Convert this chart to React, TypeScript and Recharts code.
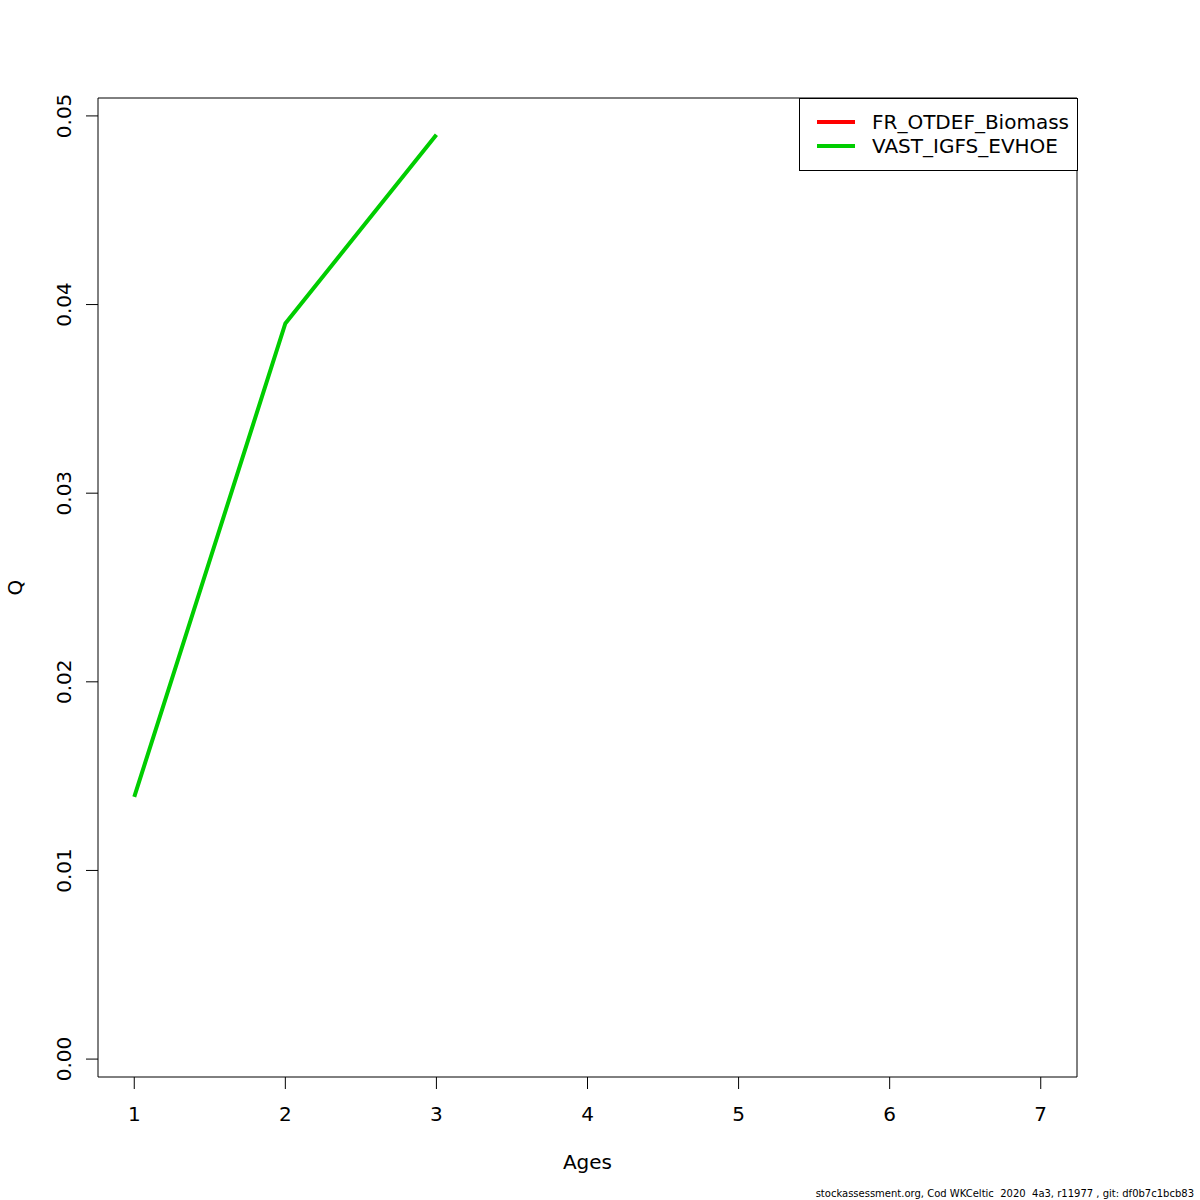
import { LineChart, Line, XAxis, YAxis, ReferenceArea, Legend } from 'recharts';

const ages = [1, 2, 3, 4, 5, 6, 7];
const seriesNames = ['FR_OTDEF_Biomass', 'VAST_IGFS_EVHOE'];
const seriesColors = ['#ff0000', '#00cd00'];
// FR_OTDEF_Biomass draws no visible line in the reference
const qFrOtdefBiomass: (number | null)[] = [null, null, null, null, null, null, null];
const qVastIgfsEvhoe: (number | null)[] = [0.0139, 0.039, 0.049, null, null, null, null];
const yTicks = [0, 0.01, 0.02, 0.03, 0.04, 0.05];
const xDomain: [number, number] = [0.76, 7.24];
const yDomain: [number, number] = [-0.00095, 0.05095];

const rows = ages.map((age, i) => ({ age, fr: qFrOtdefBiomass[i], vast: qVastIgfsEvhoe[i] }));

const FONT = '"DejaVu Sans", sans-serif';

const XTick = ({ x, y, payload }: any) => (
  <text x={x} y={y + 32} textAnchor="middle" fontSize={20} fontFamily={FONT} fill="#000">
    {payload.value}
  </text>
);

const YTick = ({ x, y, payload }: any) => (
  <text
    x={x - 15}
    y={y}
    transform={`rotate(-90, ${x - 15}, ${y})`}
    textAnchor="middle"
    fontSize={20}
    fontFamily={FONT}
    fill="#000"
  >
    {payload.value.toFixed(2)}
  </text>
);

const LegendBox = () => (
  <div
    style={{
      boxSizing: 'border-box',
      width: 279,
      height: 73,
      border: '1px solid #000',
      background: '#fff',
      padding: '11px 0 0 17px',
      fontFamily: FONT,
      fontSize: 20,
    }}
  >
    {seriesNames.map((name, i) => (
      <div key={name} style={{ display: 'flex', alignItems: 'center', height: 24 }}>
        <div style={{ width: 38, height: 4, background: seriesColors[i], marginRight: 17 }} />
        <span style={{ lineHeight: '24px', color: '#000' }}>{name}</span>
      </div>
    ))}
  </div>
);

export default function App() {
  return (
    <div style={{ position: 'absolute', left: 0, top: 0, width: 1200, height: 1200, background: '#fff' }}>
      <LineChart width={1200} height={1200} data={rows} margin={{ top: 98, right: 123, bottom: 63, left: 40 }}>
        <XAxis
          dataKey="age"
          type="number"
          domain={xDomain}
          ticks={ages}
          allowDataOverflow
          axisLine={false}
          tickSize={12}
          tickMargin={0}
          tickLine={{ stroke: '#000' }}
          tick={<XTick />}
          height={60}
          label={({ viewBox }: any) => (
            <text x={viewBox.x + viewBox.width / 2} y={1169} textAnchor="middle" fontSize={20} fontFamily={FONT} fill="#000">
              Ages
            </text>
          )}
        />
        <YAxis
          type="number"
          domain={yDomain}
          ticks={yTicks}
          allowDataOverflow
          axisLine={false}
          tickSize={12}
          tickMargin={0}
          tickLine={{ stroke: '#000' }}
          tick={<YTick />}
          width={58}
          label={({ viewBox }: any) => (
            <text
              x={22}
              y={viewBox.y + viewBox.height / 2}
              transform={`rotate(-90, 22, ${viewBox.y + viewBox.height / 2})`}
              textAnchor="middle"
              fontSize={20}
              fontFamily={FONT}
              fill="#000"
            >
              Q
            </text>
          )}
        />
        <ReferenceArea
          x1={xDomain[0]}
          x2={xDomain[1]}
          y1={yDomain[0]}
          y2={yDomain[1]}
          fill="none"
          stroke="#000"
          strokeWidth={1}
          ifOverflow="visible"
        />
        <Line dataKey="fr" stroke={seriesColors[0]} strokeWidth={4} dot={false} isAnimationActive={false} connectNulls={false} />
        <Line dataKey="vast" stroke={seriesColors[1]} strokeWidth={4} dot={false} isAnimationActive={false} connectNulls={false} />
        <Legend
          layout="horizontal"
          verticalAlign="middle"
          align="center"
          content={<LegendBox />}
          wrapperStyle={{ position: 'absolute', left: 799, top: 98, width: 279, height: 73 }}
        />
      </LineChart>
      <div
        style={{
          position: 'absolute',
          right: 6,
          top: 1188,
          fontFamily: FONT,
          fontSize: 10,
          lineHeight: '12px',
          color: '#000',
          whiteSpace: 'pre',
        }}
      >
        stockassessment.org, Cod WKCeltic  2020  4a3, r11977 , git: df0b7c1bcb83
      </div>
    </div>
  );
}
